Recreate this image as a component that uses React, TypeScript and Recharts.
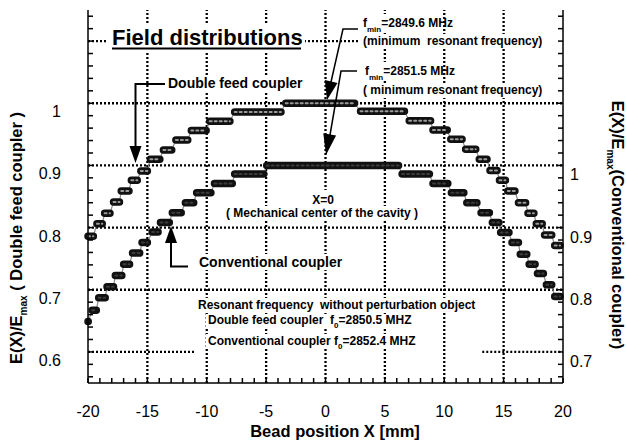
import { LineChart, Line, XAxis, YAxis, ReferenceLine } from "recharts"

type Step = [number, number, number] // x start, x end, E/Emax

// Double feed coupler, read against the left axis
const doubleFeedSteps: Step[] = [
  [-20.0, -19.55, 0.786],
  [-19.25, -18.8, 0.806],
  [-18.6, -18.15, 0.823],
  [-17.85, -17.35, 0.841],
  [-17.2, -16.55, 0.859],
  [-16.35, -15.85, 0.876],
  [-15.55, -15.0, 0.891],
  [-14.75, -13.95, 0.91],
  [-13.65, -12.95, 0.925],
  [-12.6, -11.6, 0.941],
  [-11.3, -10.05, 0.956],
  [-9.75, -8.05, 0.971],
  [-7.65, -3.75, 0.986],
  [-3.35, 2.45, 1.0],
  [2.95, 6.65, 0.987],
  [7.05, 8.85, 0.972],
  [9.05, 10.25, 0.957],
  [10.55, 11.5, 0.942],
  [11.8, 12.65, 0.926],
  [12.95, 13.6, 0.91],
  [13.85, 14.45, 0.892],
  [14.65, 15.15, 0.876],
  [15.35, 15.95, 0.859],
  [16.25, 16.85, 0.84],
  [17.05, 17.55, 0.823],
  [17.75, 18.25, 0.806],
  [18.45, 19.05, 0.788],
  [19.3, 19.75, 0.771],
]

// Conventional coupler, read against the right axis
const conventionalSteps: Step[] = [
  [-20.0, -19.98, 0.749],
  [-19.65, -19.3, 0.767],
  [-19.1, -18.55, 0.787],
  [-18.4, -17.85, 0.805],
  [-17.7, -17.15, 0.823],
  [-17.0, -16.5, 0.841],
  [-16.25, -15.65, 0.859],
  [-15.45, -15.0, 0.876],
  [-14.6, -14.1, 0.893],
  [-13.9, -13.15, 0.908],
  [-12.9, -12.15, 0.924],
  [-11.8, -11.1, 0.94],
  [-10.85, -9.65, 0.956],
  [-9.35, -7.85, 0.971],
  [-7.65, -5.2, 0.986],
  [-4.95, 6.15, 1.0],
  [6.45, 8.75, 0.986],
  [9.05, 10.3, 0.971],
  [10.6, 11.65, 0.956],
  [11.9, 12.75, 0.94],
  [13.1, 13.8, 0.924],
  [14.05, 14.6, 0.908],
  [14.75, 15.45, 0.892],
  [15.7, 16.25, 0.876],
  [16.4, 16.95, 0.857],
  [17.15, 17.65, 0.841],
  [17.85, 18.35, 0.826],
  [18.6, 19.05, 0.808],
  [19.3, 19.75, 0.789],
]

const xLabels = [-20, -15, -10, -5, 0, 5, 10, 15, 20]
const leftLabels = [0.6, 0.7, 0.8, 0.9, 1.0]
const rightLabels = [0.7, 0.8, 0.9, 1.0]

const gridX = [-15, -10, -5, 0, 5, 10, 15]
const gridY = [0.7, 0.8, 0.9, 1.0]
const partialGrid = [
  { x1: -20, x2: 3, y: 1.1 },
  { x1: -20, x2: -11, y: 0.6 },
  { x1: 13.2, x2: 20, y: 0.6 },
]

const FONT = "'Liberation Sans', Arial, sans-serif"

const range = (a: number, b: number, s: number) => {
  const out: number[] = []
  for (let v = a; v <= b + 1e-9; v += s) out.push(Math.round(v * 100) / 100)
  return out
}
const xTicks = range(-20, 20, 1)
const leftTicks = range(0.56, 1.14, 0.02)
const rightTicks = range(0.66, 1.24, 0.02)
const has = (arr: number[], v: number) => arr.some((t) => Math.abs(t - v) < 1e-6)

// plateaus with a null between them so the line breaks
const segs = (steps: Step[]) =>
  steps.flatMap(([a, b, y]) => [{ x: a, y }, { x: b, y }, { x: b, y: null }])
const joins = (steps: Step[]) => steps.flatMap(([a, b, y]) => [{ x: a, y }, { x: b, y }])

const dotted = { stroke: "#000", strokeWidth: 2.3, strokeDasharray: "2 2" }

const BottomTick = ({ x, y, payload }: any) => (
  <g>
    <line x1={x} x2={x} y1={y} y2={y - 5} stroke="#000" strokeWidth={1.5} />
    {has(xLabels, payload.value) && (
      <text x={x} y={y + 34} textAnchor="middle" fontSize={16} fontFamily={FONT} fill="#000">
        {payload.value}
      </text>
    )}
  </g>
)

const TopTick = ({ x, y }: any) => (
  <line x1={x} x2={x} y1={y} y2={y + 5} stroke="#000" strokeWidth={1.5} />
)

const LeftTick = ({ x, y, payload }: any) => (
  <g>
    <line x1={x} x2={x + 5} y1={y} y2={y} stroke="#000" strokeWidth={1.5} />
    {has(leftLabels, payload.value) && (
      <text x={x - 27} y={y + 14} textAnchor="end" fontSize={16} fontFamily={FONT} fill="#000">
        {payload.value}
      </text>
    )}
  </g>
)

const RightTick = ({ x, y, payload }: any) => (
  <g>
    <line x1={x} x2={x - 5} y1={y} y2={y} stroke="#000" strokeWidth={1.5} />
    {has(rightLabels, payload.value) && (
      <text x={x + 7} y={y + 15} textAnchor="start" fontSize={16} fontFamily={FONT} fill="#000">
        {payload.value}
      </text>
    )}
  </g>
)

function Head({ fx, fy, tx, ty, len = 17, w = 12 }: any) {
  const dx = tx - fx
  const dy = ty - fy
  const d = Math.hypot(dx, dy)
  const ux = dx / d
  const uy = dy / d
  const bx = tx - ux * len
  const by = ty - uy * len
  const pts = `${tx},${ty} ${bx - (uy * w) / 2},${by + (ux * w) / 2} ${bx + (uy * w) / 2},${by - (ux * w) / 2}`
  return <polygon points={pts} fill="#000" />
}

function Overlay() {
  const b = { fontFamily: FONT, fontWeight: 700, fill: "#000" }
  const mask = (x: number, y: number, w: number, h: number) => (
    <rect x={x} y={y} width={w} height={h} fill="#fff" />
  )
  return (
    <svg width={626} height={444} style={{ position: "absolute", left: 0, top: 0, pointerEvents: "none" }}>
      {mask(107, 25, 198, 26)}
      {mask(165, 75, 143, 17)}
      {mask(360, 14, 78, 19)}
      {mask(360, 34, 192, 15)}
      {mask(362, 62, 78, 18)}
      {mask(360, 83, 194, 15)}
      {mask(306, 190, 34, 16)}
      {mask(226, 206, 192, 14)}
      {mask(196, 254, 152, 16)}
      {mask(196, 298, 286, 15)}
      {mask(206, 314, 212, 15)}
      {mask(206, 334, 216, 15)}

      <text x={112} y={45} fontSize={22} {...b}>Field distributions</text>
      <line x1={112} x2={301} y1={48.5} y2={48.5} stroke="#000" strokeWidth={2} />

      <text x={168} y={88} fontSize={14} {...b}>Double feed coupler</text>
      <path d="M165,84 H135.5 V150" stroke="#000" strokeWidth={2} fill="none" />
      <Head fx={135.5} fy={84} tx={135.5} ty={163} />

      <text x={199} y={266.5} fontSize={14} {...b}>Conventional coupler</text>
      <path d="M188,266.5 H171 V240" stroke="#000" strokeWidth={2} fill="none" />
      <Head fx={171} fy={266.5} tx={171} ty={226} />

      <text x={363} y={27} fontSize={12} {...b}>
        f<tspan fontSize={8} dy={5}>min</tspan><tspan dy={-5}>=2849.6 MHz</tspan>
      </text>
      <text x={363} y={45} fontSize={12} {...b} style={{ whiteSpace: "pre" }}>(minimum  resonant frequency)</text>
      <text x={365} y={75} fontSize={12} {...b}>
        f<tspan fontSize={8} dy={5}>min</tspan><tspan dy={-5}>=2851.5 MHz</tspan>
      </text>
      <text x={363} y={94} fontSize={12} {...b}>( minimum resonant frequency)</text>
      <path d="M358,29 H343 L331,82" stroke="#000" strokeWidth={1.5} fill="none" />
      <Head fx={343} fy={29} tx={327} ty={100} len={19} w={13} />
      <path d="M357,71 H341 L330,135" stroke="#000" strokeWidth={1.5} fill="none" />
      <Head fx={341} fy={71} tx={326} ty={155} len={21} w={13} />

      <text x={323} y={204} fontSize={12} textAnchor="middle" {...b}>X=0</text>
      <text x={322} y={217} fontSize={12} textAnchor="middle" {...b}>( Mechanical center of the cavity )</text>

      <text x={198} y={309} fontSize={12} {...b} style={{ whiteSpace: "pre" }}>Resonant frequency  without perturbation object</text>
      <text x={208} y={324} fontSize={12} {...b} style={{ whiteSpace: "pre" }}>
        Double feed coupler  f<tspan fontSize={8} dy={4}>0</tspan><tspan dy={-4}>=2850.5 MHZ</tspan>
      </text>
      <text x={208} y={345} fontSize={12} {...b}>
        Conventional coupler f<tspan fontSize={8} dy={4}>0</tspan><tspan dy={-4}>=2852.4 MHZ</tspan>
      </text>

      <text x={335} y={437} fontSize={16.5} textAnchor="middle" {...b}>Bead position X [mm]</text>

      <text transform="translate(22,238) rotate(-90)" fontSize={16.5} textAnchor="middle" {...b}>
        E(X)/E<tspan fontSize={10} dy={5}>max</tspan><tspan dy={-5}> ( Double feed coupler )</tspan>
      </text>
      <text transform="translate(612,225) rotate(90)" fontSize={16.5} textAnchor="middle" {...b}>
        E(X)/E<tspan fontSize={10} dy={5}>max</tspan><tspan dy={-5}>(Conventional coupler)</tspan>
      </text>
    </svg>
  )
}

function Series({ steps, axis, core }: { steps: Step[]; axis: string; core: string }) {
  return (
    <>
      <Line data={joins(steps)} dataKey="y" xAxisId="bottom" yAxisId={axis} stroke="#8a8a8a"
        strokeWidth={1.2} dot={false} isAnimationActive={false} />
      <Line data={segs(steps)} dataKey="y" xAxisId="bottom" yAxisId={axis} stroke="#111"
        strokeWidth={7.5} strokeLinecap="round" dot={false} isAnimationActive={false} />
      <Line data={segs(steps)} dataKey="y" xAxisId="bottom" yAxisId={axis} stroke={core}
        strokeWidth={2} strokeDasharray="2 3" strokeLinecap="round" dot={false} isAnimationActive={false} />
    </>
  )
}

export default function App() {
  return (
    <div style={{ position: "absolute", left: 0, top: 0, width: 626, height: 444, background: "#fff" }}>
      <LineChart width={626} height={444} margin={{ top: 10, right: 0, bottom: 0, left: 0 }}>
        <XAxis xAxisId="bottom" dataKey="x" type="number" domain={[-20, 20]} ticks={xTicks} interval={0}
          height={61} tickSize={0} tickMargin={0} tick={BottomTick} tickLine={false}
          axisLine={{ stroke: "#000", strokeWidth: 1.5 }} />
        <XAxis xAxisId="top" orientation="top" dataKey="x" type="number" domain={[-20, 20]} ticks={xTicks}
          interval={0} height={0} tickSize={0} tickMargin={0} tick={TopTick} tickLine={false}
          axisLine={{ stroke: "#000", strokeWidth: 1.5 }} />
        <YAxis yAxisId="L" type="number" domain={[0.55, 1.15]} ticks={leftTicks} interval={0} width={88}
          tickSize={0} tickMargin={0} tick={LeftTick} tickLine={false}
          axisLine={{ stroke: "#000", strokeWidth: 1.5 }} />
        <YAxis yAxisId="R" orientation="right" type="number" domain={[0.65, 1.25]} ticks={rightTicks}
          interval={0} width={63} tickSize={0} tickMargin={0} tick={RightTick} tickLine={false}
          axisLine={{ stroke: "#000", strokeWidth: 1.5 }} />

        {gridY.map((v) => (
          <ReferenceLine key={"h" + v} y={v} xAxisId="bottom" yAxisId="L" {...dotted} />
        ))}
        {gridX.map((v) => (
          <ReferenceLine key={"v" + v} x={v} xAxisId="bottom" yAxisId="L" {...dotted} />
        ))}
        {partialGrid.map((g, i) => (
          <ReferenceLine key={"p" + i} xAxisId="bottom" yAxisId="L" {...dotted}
            segment={[{ x: g.x1, y: g.y }, { x: g.x2, y: g.y }]} />
        ))}

        {Series({ steps: doubleFeedSteps, axis: "L", core: "#9a9a9a" })}
        {Series({ steps: conventionalSteps, axis: "R", core: "#3c3c3c" })}
      </LineChart>
      <Overlay />
    </div>
  )
}
